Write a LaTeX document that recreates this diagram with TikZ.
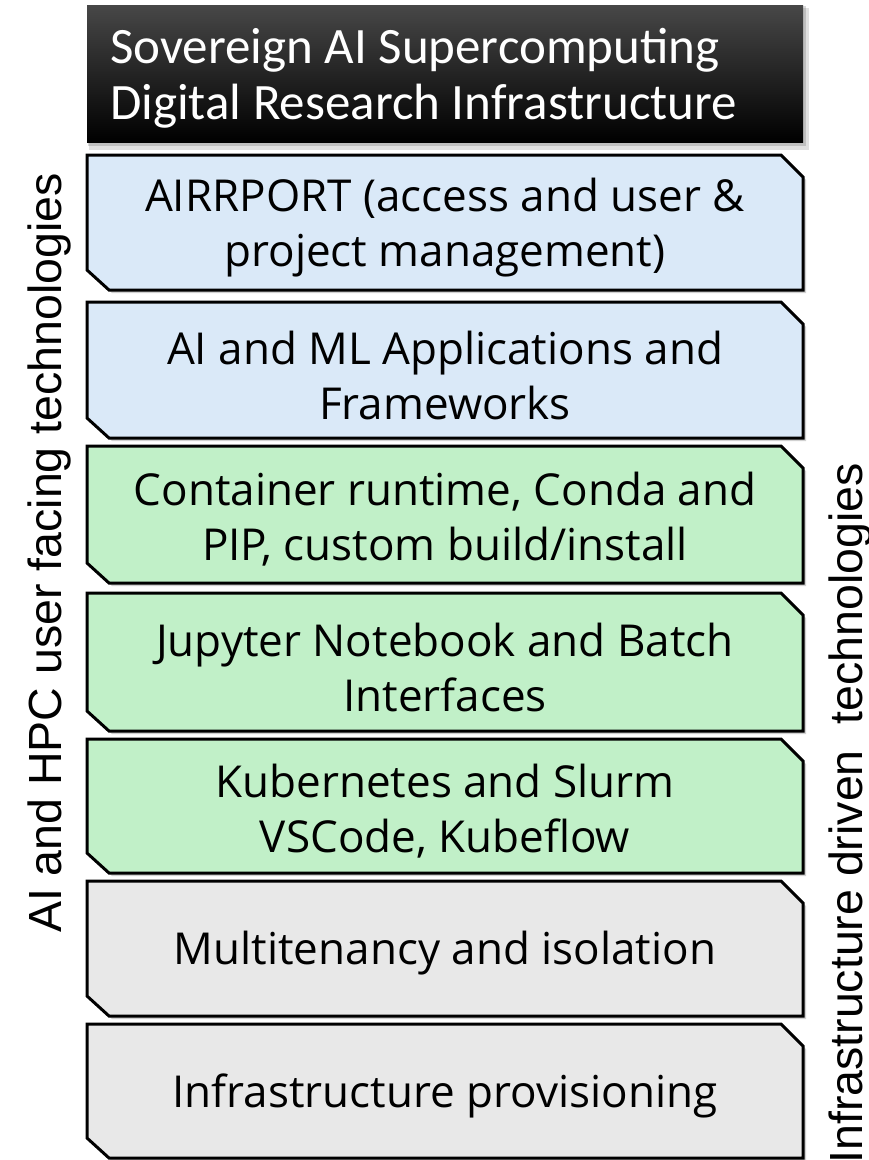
\documentclass[tikz,border=0pt]{standalone}
\usepackage{fontspec}
\setmainfont{Open Sans}
\newfontfamily\titlefont{Carlito}
\newfontfamily\sidefont{Liberation Sans}
\definecolor{bluefill}{HTML}{DAE9F8}
\definecolor{greenfill}{HTML}{C1F0C8}
\definecolor{grayfill}{HTML}{E8E8E8}
\tikzset{
  layer/.style={draw=black, line width=3pt, line join=miter},
  layershadow/.style={fill=black, opacity=0.18},
  layertext/.style={align=center, font=\fontsize{44}{55}\selectfont, text=black, inner sep=0pt},
  sidetext/.style={font=\sidefont\fontsize{46.5}{54}\selectfont, rotate=90, inner sep=0pt},
  titletext/.style={font=\titlefont\fontsize{51}{56}\selectfont, text=white, inner sep=0pt, anchor=base west},
}
\newcommand\layerbox[5]{%
  \path[layershadow] (90,#1+3) -- (784,#1+3) -- (806,#1+25) -- (806,#2+3) -- (112,#2+3) -- (90,#2-17) -- cycle;
  \path[layer, fill=#3] (87,#1) -- (781,#1) -- (803,#1+22) -- (803,#2) -- (109,#2) -- (87,#2-20) -- cycle;
  \node[layertext] (#4) at (445,{(#1+#2)/2+5}) {#5};
}
\begin{document}
\begin{tikzpicture}[x=1pt,y=-1pt]
  \useasboundingbox (0,0) rectangle (869,1160);
  \clip (0,0) rectangle (869,1160);
  % title
  \fill[black, opacity=0.12] (89,8) rectangle (809,150);
  \fill[black, opacity=0.15] (88,6) rectangle (806,146);
  \shade[top color=black!72, middle color=black, bottom color=black] (87,5) rectangle (803,142);
  \node[titletext] (title1) at (110,63) {Sovereign AI Supercomputing};
  \node[titletext] (title2) at (110,119) {Digital Research Infrastructure};
  % layers
  \layerbox{155}{290}{bluefill}{airrport}{AIRRPORT (access and user \&\\project management)}
  \layerbox{302}{438}{bluefill}{aiml}{AI and ML Applications and\\Frameworks}
  \layerbox{446}{583}{greenfill}{container}{Container runtime, Conda and\\PIP, custom build/install}
  \layerbox{593}{731}{greenfill}{jupyter}{Jupyter Notebook and Batch\\Interfaces}
  \layerbox{739}{873}{greenfill}{kube}{Kubernetes and Slurm\\VSCode, Kubeflow}
  \layerbox{881}{1016}{grayfill}{multi}{Multitenancy and isolation}
  \layerbox{1024}{1158}{grayfill}{infra}{Infrastructure provisioning}
  % side labels
  \node[sidetext, anchor=base] (leftlab) at (61,553) {AI and HPC user facing technologies};
  \node[sidetext, anchor=base east] (rightlab) at (862,463) {Infrastructure driven\ \ technologies};
\end{tikzpicture}
\end{document}
